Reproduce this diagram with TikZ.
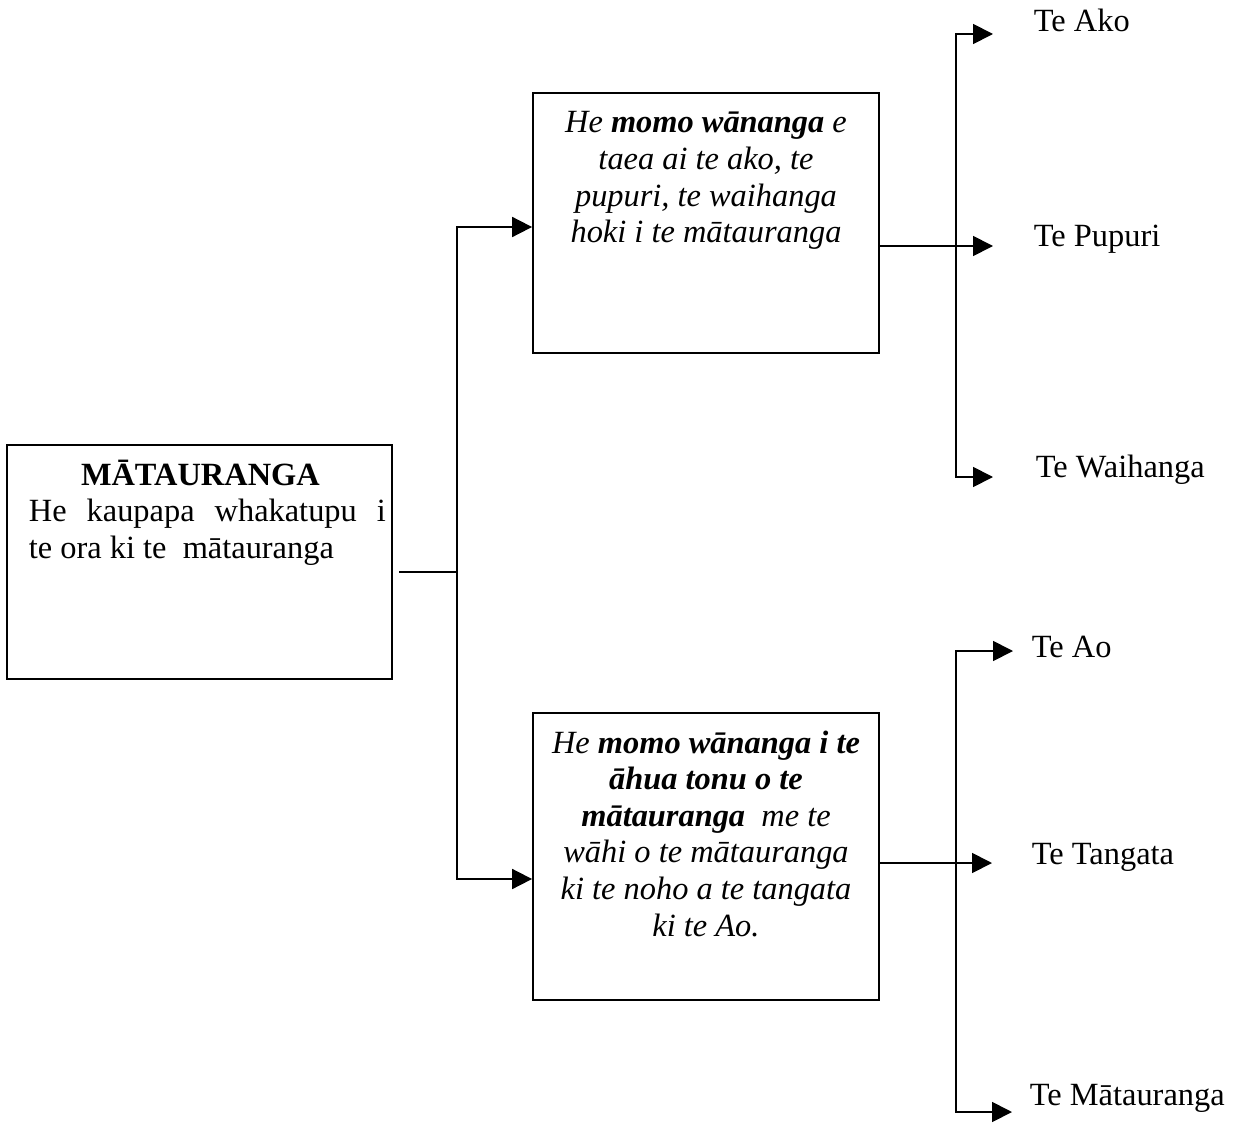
\documentclass[tikz,border=0pt]{standalone}
\usepackage{fontspec}
\setmainfont{Liberation Serif}
\usetikzlibrary{arrows.meta}
\begin{document}
\begin{tikzpicture}[x=1pt,y=-1pt,
  line width=1.8pt,
  box/.style={draw, line width=1.8pt, rectangle, inner sep=0pt},
  arr/.style={-{Triangle[length=20pt,width=20pt]}},
  txt/.style={inner sep=0pt, font=\fontsize{32.4}{36.6}\selectfont},
  lbl/.style={txt, anchor=base west}]
\useasboundingbox (0,0) rectangle (1233,1123);
% boxes
\node[box, minimum width=385pt, minimum height=234pt] (L) at (199.5,562) {};
\node[box, minimum width=346pt, minimum height=260pt] (T) at (706,223) {};
\node[box, minimum width=346pt, minimum height=287pt] (B) at (706,856.5) {};
% box texts
\node[txt, anchor=base west] (Lt) at (28,485) {\begin{tabular}[t]{@{}l@{}}\makebox[357pt]{\bfseries MĀTAURANGA\hspace{14pt}}\\ \makebox[357pt][s]{He kaupapa whakatupu i}\\ te ora ki te\ \ mātauranga\end{tabular}};
\node[txt, anchor=base] (Tt) at (706,133) {\itshape\begin{tabular}[t]{@{}c@{}}He \textbf{momo wānanga} e\\ taea ai te ako, te\\ pupuri, te waihanga\\ hoki i te mātauranga\end{tabular}};
\node[txt, anchor=base] (Bt) at (706,753) {\itshape\begin{tabular}[t]{@{}c@{}}He \textbf{momo wānanga i te}\\ \textbf{āhua tonu o te}\\ \textbf{mātauranga}\ \ me te\\ wāhi o te mātauranga\\ ki te noho a te tangata\\ ki te Ao.\end{tabular}};
% labels
\node[lbl] (ako) at (1033,32) {Te Ako};
\node[lbl] (pup) at (1033,247) {Te Pupuri};
\node[lbl] (wai) at (1035,477) {Te Waihanga};
\node[lbl] (ao) at (1031,657) {Te Ao};
\node[lbl] (tan) at (1031,864) {Te Tangata};
\node[lbl] (mat) at (1029,1105) {Te Mātauranga};
% left connectors
\coordinate (ls) at (399,572);
\coordinate (j) at (457,572);
\draw (ls) -- (j);
\draw[arr] (j) |- ([yshift=-4pt]T.west);
\draw[arr] (j) |- ([yshift=-22.5pt]B.west);
% top right connectors
\coordinate (tv) at (956,246);
\coordinate (ta) at (993,34);
\coordinate (tp) at (993,246);
\coordinate (tw) at (993,477);
\draw[arr] ([yshift=-23pt]T.east) -- (tp);
\draw[arr] (tv) |- (ta);
\draw[arr] (tv) |- (tw);
% bottom right connectors
\coordinate (bv) at (956,863);
\coordinate (ba) at (1013,651);
\coordinate (bt) at (992,863);
\coordinate (bm) at (1012,1112);
\draw[arr] ([yshift=-6.5pt]B.east) -- (bt);
\draw[arr] (bv) |- (ba);
\draw[arr] (bv) |- (bm);
\end{tikzpicture}
\end{document}
